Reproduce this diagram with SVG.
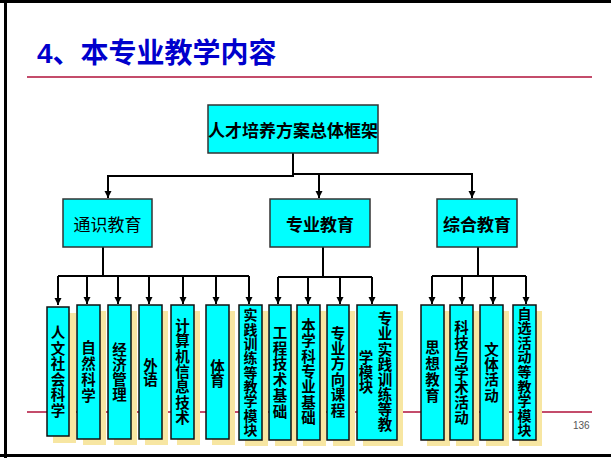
<svg xmlns="http://www.w3.org/2000/svg" width="611" height="458" viewBox="0 0 611 458">
<defs>
<style>
.frame{stroke:#000;stroke-width:3;fill:none}
.rule{stroke:#B0103A;stroke-width:1.5}
.title{font-family:"Liberation Sans","Noto Sans CJK SC",sans-serif;font-weight:bold;font-size:28px;fill:#0000CC}
.box{fill:#00FFFF;stroke:#333;stroke-width:1.5}
.sbox{fill:#00FFFF;stroke:#111;stroke-width:1.5}
.shadow{fill:#F7E6A2}
.t1{font-family:"Noto Sans CJK SC",sans-serif;font-size:17px;fill:#000;text-anchor:middle;dominant-baseline:central}
.b{font-weight:bold}
.v{font-family:"Noto Sans CJK SC",sans-serif;font-weight:bold;font-size:14.5px;fill:#000;text-anchor:middle;writing-mode:vertical-rl}
.c{stroke:#000;stroke-width:2;fill:none}
.ca{stroke:#000;stroke-width:2;fill:none;marker-end:url(#ah)}
.pg{font-family:"Liberation Sans",sans-serif;font-size:10px;fill:#555}
</style>
<marker id="ah" markerUnits="userSpaceOnUse" markerWidth="8" markerHeight="8" refX="7" refY="4" orient="auto">
<path d="M0,0.5 L7,4 L0,7.5 Z" fill="#000"/>
</marker>
</defs>
<rect width="611" height="458" fill="#fff"/>
<g id="frame">
<line class="frame" x1="5.5" y1="0" x2="5.5" y2="458"/>
<line class="frame" x1="0" y1="1.5" x2="611" y2="1.5"/>
<line class="frame" x1="0" y1="455.5" x2="611" y2="455.5"/>
<line class="rule" x1="27" y1="77" x2="592" y2="77"/>
<line class="rule" x1="27" y1="412" x2="592" y2="412"/>
</g>
<text id="title" class="title" x="37" y="63">4、本专业教学内容</text>
<text id="page" class="pg" x="573" y="429">136</text>

<g id="connectors">
<path class="c" d="M293,153 V175"/>
<path class="ca" d="M294,176 H108 V198"/>
<path class="ca" d="M293,174 H472 V198"/>
<path class="ca" d="M319,174 V198"/>
<path class="c" d="M103,247 V276"/>
<path class="c" d="M58,276 H249"/>
<path class="ca" d="M58,276 V305"/>
<path class="ca" d="M87,276 V304"/>
<path class="ca" d="M118,276 V304"/>
<path class="ca" d="M149,276 V304"/>
<path class="ca" d="M183,276 V304"/>
<path class="ca" d="M216,276 V304"/>
<path class="ca" d="M249,276 V304"/>
<path class="c" d="M323,247 V277"/>
<path class="c" d="M278,277 H372"/>
<path class="ca" d="M278,277 V304"/>
<path class="ca" d="M308,277 V304"/>
<path class="ca" d="M340,277 V304"/>
<path class="ca" d="M372,277 V304"/>
<path class="c" d="M478,247 V276"/>
<path class="c" d="M432,276 H526"/>
<path class="ca" d="M432,276 V304"/>
<path class="ca" d="M462,276 V304"/>
<path class="ca" d="M493,276 V304"/>
<path class="ca" d="M526,276 V304"/>
</g>

<g id="n-root">
<rect class="box" x="208" y="105" width="170" height="48"/>
<text class="t1 b" x="293" y="129">人才培养方案总体框架</text>
</g>
<g id="n-tongshi">
<rect class="box" x="63" y="199" width="89" height="48"/>
<text class="t1" x="107.5" y="223">通识教育</text>
</g>
<g id="n-zhuanye">
<rect class="box" x="270" y="199" width="100" height="48"/>
<text class="t1 b" x="320" y="223">专业教育</text>
</g>
<g id="n-zonghe">
<rect class="box" x="437" y="199" width="80" height="48"/>
<text class="t1 b" x="477" y="223">综合教育</text>
</g>

<g id="n-renwen">
<rect class="shadow" x="53" y="313" width="23" height="130"/>
<rect class="sbox" x="47" y="307" width="22" height="129"/>
<text class="v" x="58" y="372" style="letter-spacing:1.1px">人文社会科学</text>
</g>
<g id="n-ziran">
<rect class="shadow" x="83" y="311" width="23" height="134"/>
<rect class="sbox" x="77" y="305" width="23" height="134"/>
<text class="v" x="88.5" y="372" style="letter-spacing:1.5px">自然科学</text>
</g>
<g id="n-jingji">
<rect class="shadow" x="114" y="311" width="23" height="134"/>
<rect class="sbox" x="108" y="305" width="23" height="134"/>
<text class="v" x="119.5" y="372" style="letter-spacing:0.5px">经济管理</text>
</g>
<g id="n-waiyu">
<rect class="shadow" x="145" y="311" width="23" height="134"/>
<rect class="sbox" x="139" y="305" width="23" height="134"/>
<text class="v" x="150.5" y="372" style="letter-spacing:-0.5px">外语</text>
</g>
<g id="n-jisuanji">
<rect class="shadow" x="177" y="311" width="23" height="134"/>
<rect class="sbox" x="171" y="305" width="23" height="134"/>
<text class="v" x="182.5" y="372" style="letter-spacing:0.8px">计算机信息技术</text>
</g>
<g id="n-tiyu">
<rect class="shadow" x="212" y="311" width="23" height="134"/>
<rect class="sbox" x="206" y="305" width="23" height="134"/>
<text class="v" x="217.5" y="373" style="letter-spacing:-0.5px">体育</text>
</g>
<g id="n-shijian1">
<rect class="shadow" x="245" y="311" width="23" height="135"/>
<rect class="sbox" x="239" y="305" width="23" height="135"/>
<text class="v" x="250.5" y="372.5" style="font-size:14px;letter-spacing:0.3px">实践训练等教学模块</text>
</g>

<g id="n-gongcheng">
<rect class="shadow" x="275" y="311" width="22" height="135"/>
<rect class="sbox" x="269" y="305" width="22" height="135"/>
<text class="v" x="280" y="372.5" style="letter-spacing:1.3px">工程技术基础</text>
</g>
<g id="n-benxueke">
<rect class="shadow" x="303" y="311" width="23" height="135"/>
<rect class="sbox" x="297" y="305" width="23" height="135"/>
<text class="v" x="308.5" y="372" style="letter-spacing:0.8px">本学科专业基础</text>
</g>
<g id="n-fangxiang">
<rect class="shadow" x="333" y="311" width="22" height="135"/>
<rect class="sbox" x="327" y="305" width="22" height="135"/>
<text class="v" x="338" y="372" style="letter-spacing:0.9px">专业方向课程</text>
</g>
<g id="n-zhuanyeshijian">
<rect class="shadow" x="363" y="311" width="40" height="135"/>
<rect class="sbox" x="357" y="305" width="40" height="135"/>
<text class="v" x="385" y="372" style="letter-spacing:0.6px">专业实践训练等教</text>
<text class="v" x="366" y="372">学模块</text>
</g>

<g id="n-sixiang">
<rect class="shadow" x="427" y="311" width="23" height="135"/>
<rect class="sbox" x="421" y="305" width="23" height="135"/>
<text class="v" x="432.5" y="372" style="letter-spacing:1.5px">思想教育</text>
</g>
<g id="n-keji">
<rect class="shadow" x="456" y="311" width="23" height="135"/>
<rect class="sbox" x="450" y="305" width="23" height="135"/>
<text class="v" x="461.5" y="372.5" style="letter-spacing:0.5px">科技与学术活动</text>
</g>
<g id="n-wenti">
<rect class="shadow" x="486" y="311" width="23" height="135"/>
<rect class="sbox" x="480" y="305" width="23" height="135"/>
<text class="v" x="491.5" y="372.5" style="letter-spacing:0.8px">文体活动</text>
</g>
<g id="n-zixuan">
<rect class="shadow" x="519" y="311" width="23" height="135"/>
<rect class="sbox" x="513" y="305" width="23" height="135"/>
<text class="v" x="524.5" y="372" style="font-size:14px;letter-spacing:0.6px">自选活动等教学模块</text>
</g>
</svg>
